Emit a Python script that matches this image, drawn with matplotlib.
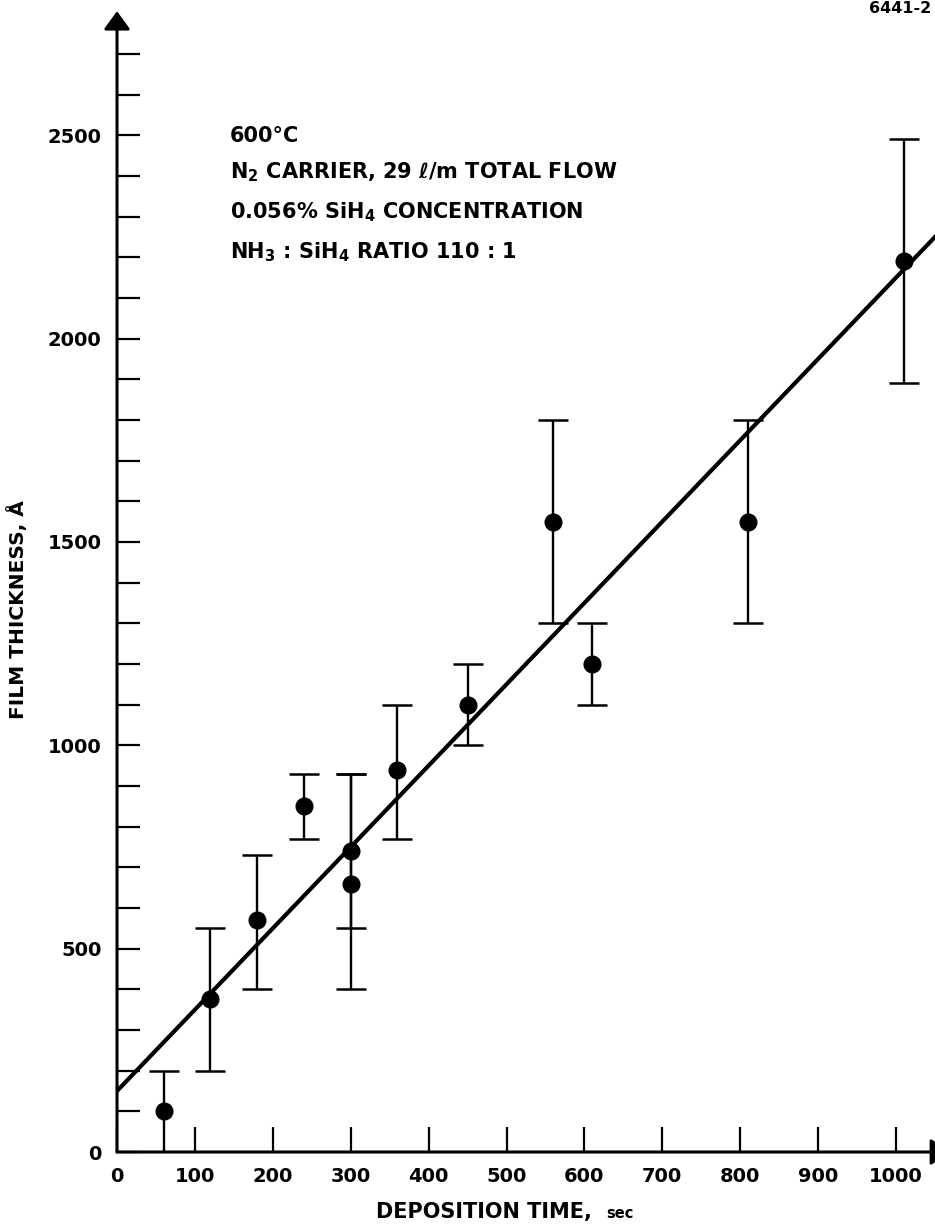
import matplotlib
matplotlib.use('Agg')
import matplotlib.pyplot as plt
from matplotlib.ticker import FixedLocator, FixedFormatter

plt.rcParams['font.family'] = ['DejaVu Sans']
plt.rcParams['font.weight'] = 'bold'
plt.rcParams['mathtext.fontset'] = 'custom'
plt.rcParams['mathtext.rm'] = 'DejaVu Sans:bold'
plt.rcParams['mathtext.it'] = 'DejaVu Sans:bold'
plt.rcParams['mathtext.bf'] = 'DejaVu Sans:bold'
plt.rcParams['mathtext.sf'] = 'DejaVu Sans:bold'

# ---- data ----
time_sec = [60, 120, 180, 240, 300, 300, 360, 450, 560, 610, 810, 1010]
thickness = [100, 375, 570, 850, 740, 660, 940, 1100, 1550, 1200, 1550, 2190]
err_low = [0, 200, 400, 770, 550, 400, 770, 1000, 1300, 1100, 1300, 1890]
err_high = [200, 550, 730, 930, 930, 930, 1100, 1200, 1800, 1300, 1800, 2490]
fit_intercept = 150
fit_slope = 2.0

x_ticks = [0, 100, 200, 300, 400, 500, 600, 700, 800, 900, 1000]
x_tick_labels = ['0', '100', '200', '300', '400', '500', '600', '700', '800', '900', '1000']
y_ticks = list(range(0, 2800, 100))
y_labeled = [0, 500, 1000, 1500, 2000, 2500]

notes = ['600°C',
         'N$_2$ CARRIER, 29 ℓ/m TOTAL FLOW',
         '0.056% SiH$_4$ CONCENTRATION',
         'NH$_3$ : SiH$_4$ RATIO 110 : 1']

W, H = 935, 1229


def px(x, y):
    return x / W, 1 - y / H


fig = plt.figure(figsize=(W / 100, H / 100), dpi=100)
ax = fig.add_axes([117 / W, 77 / H, 818 / W, 1151 / H])
ax.set_xlim(0, 1050)
ax.set_ylim(0, 2830)
for s in ax.spines.values():
    s.set_visible(False)

ax.xaxis.set_major_locator(FixedLocator(x_ticks))
ax.xaxis.set_major_formatter(FixedFormatter(x_tick_labels))
ax.yaxis.set_major_locator(FixedLocator(y_ticks))
ax.yaxis.set_major_formatter(FixedFormatter([str(v) if v in y_labeled else '' for v in y_ticks]))
ax.tick_params(axis='x', direction='in', length=18, width=1.6, pad=11, labelsize=14)
ax.tick_params(axis='y', direction='in', length=16.5, width=1.6, pad=11, labelsize=14)

# axes with arrows
arrow_kw = dict(arrowstyle='-|>,head_length=0.55,head_width=0.4', lw=2.2, color='black',
                shrinkA=0, shrinkB=0, mutation_scale=20)
ax.annotate('', xy=(1068, 0), xytext=(0, 0), arrowprops=arrow_kw, annotation_clip=False)
ax.annotate('', xy=(0, 2805), xytext=(0, 0), arrowprops=arrow_kw, annotation_clip=False)

# fit line
ax.axline((0, fit_intercept), slope=fit_slope, color='black', lw=3)

# data with error bars
yerr = [[t - l for t, l in zip(thickness, err_low)],
        [h - t for t, h in zip(thickness, err_high)]]
ax.errorbar(time_sec, thickness, yerr=yerr, fmt='o', color='black', ms=12,
            elinewidth=1.7, capsize=10.5, capthick=1.8, zorder=3)

# annotations
baselines = [142, 178, 218, 258]
for txt, yb in zip(notes, baselines):
    fig.text(*px(230, yb), txt, ha='left', va='baseline', fontsize=15, fontweight='bold')

fig.text(*px(931, 13), '6441-2', ha='right', va='baseline', fontsize=11.5, fontweight='bold')

# axis labels
fig.text(*px(376, 1218), 'DEPOSITION TIME,', ha='left', va='baseline', fontsize=15, fontweight='bold')
fig.text(*px(606, 1218), 'sec', ha='left', va='baseline', fontsize=10.5, fontweight='bold')
fig.text(*px(18, 610), 'FILM THICKNESS, Å', rotation=90, ha='center', va='center',
         fontsize=14.5, fontweight='bold')

fig.savefig('out.png', dpi=100)
